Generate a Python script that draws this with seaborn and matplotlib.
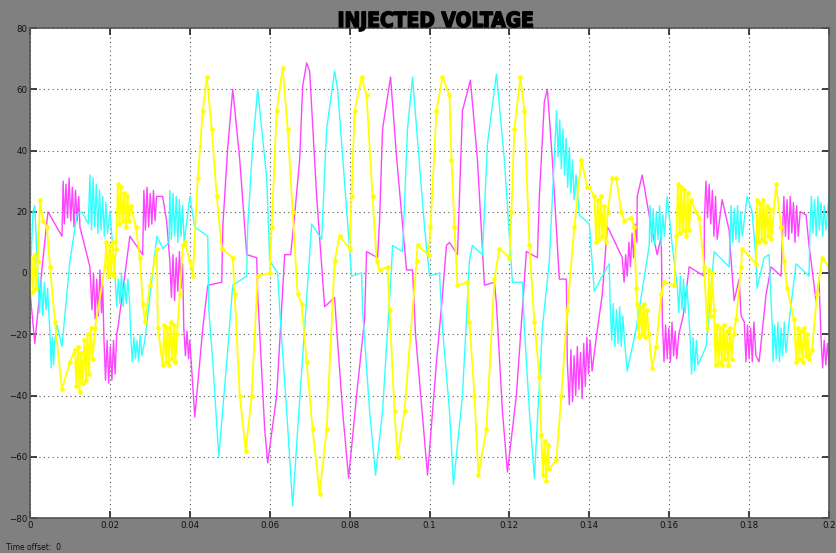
import matplotlib
matplotlib.use("Agg")
import matplotlib.pyplot as plt
import matplotlib.patheffects as pe
import seaborn as sns
import numpy as np

# ---------------- data (time in ms, voltage in V) ----------------
magenta_pts = [
    (0, -6), (1.2, -23), (3.2, 4), (4.5, 20), (8, 12),
    (8.3, 30), (8.6, 16), (9.0, 29), (9.4, 18), (9.8, 31), (10.2, 17), (10.6, 28), (11.0, 15),
    (11.4, 27), (11.8, 17), (12.2, 25), (12.5, 15),
    (15, 2), (15.5, -12), (15.9, 0), (16.3, -15), (16.7, -2), (17.1, -14), (17.5, 1), (17.9, -13), (18.2, -4),
    (18.5, -21), (18.9, -35), (19.3, -22), (19.7, -36), (20.1, -24), (20.5, -35), (20.9, -22), (21.3, -33), (21.7, -20),
    (22, -18), (24.2, 4), (25, 12), (28.2, 6),
    (28.5, 27), (28.9, 14), (29.3, 28), (29.7, 15), (30.1, 26), (30.5, 16), (30.9, 27), (31.3, 17), (31.7, 25),
    (32.5, 25), (33.2, 25), (34.2, 17), (35, 4),
    (35.4, -8), (35.8, 6), (36.2, -9), (36.6, 5), (37, -6), (37.4, 7), (37.8, -5), (38.2, 3),
    (38.5, -18), (38.9, -27), (39.3, -19), (39.7, -28), (40, -22),
    (41.25, -47), (43.25, -18), (44.5, -4), (48, -3), (48.25, 15), (49.5, 41), (50.75, 60), (52.5, 37),
    (54.25, 6), (56.75, 5), (57, -7), (58.75, -51), (59.5, -62), (61.75, -40), (63.75, 6), (65.25, 6),
    (66.25, 19), (67.5, 37), (68.25, 61), (69.25, 68.6),
    (70, 66), (71.75, 25), (73.75, -11), (76.25, -8), (76.75, -18), (78.25, -45), (79.75, -67), (81.75, -40),
    (83.75, -15), (84.25, 7), (87, 5), (87.5, 17), (88.25, 47), (90.25, 64), (91.75, 38), (94.25, 1),
    (95.75, 1), (96.5, -20), (99.5, -66), (101.75, -29), (103, -11), (104.25, 9), (105, 10), (107, 6),
    (108.25, 53), (110.25, 63), (112, 37), (113.75, -4), (116.25, -3), (116.75, -10), (118.25, -45),
    (119.5, -65), (121.75, -40), (124.25, 7), (127, 5), (127.5, 25), (128.75, 56), (129.5, 60),
    (130.75, 37), (132.5, -2), (134.25, -2), (134.5, -29),
    (135, -43), (135.4, -25), (135.8, -42), (136.2, -27), (136.6, -40), (137, -24), (137.4, -38), (137.8, -26),
    (138.2, -41), (138.6, -23), (139, -37), (139.4, -21), (139.8, -33), (140.2, -22), (140.7, -32),
    (141.75, -21), (143.25, -7), (144.5, 15), (145, 14), (148.25, 5),
    (148.7, -3), (149.1, 6), (149.5, -1), (149.9, 10), (150.3, 2), (150.7, 13), (151.1, 5), (151.5, 16), (151.9, 10),
    (152, 25), (153.25, 32), (155.5, 15), (157, 6), (158, 12),
    (158.3, -16), (158.7, -29), (159.1, -17), (159.5, -28), (159.9, -18), (160.3, -29), (160.7, -16),
    (161.1, -27), (161.5, -19), (161.9, -28), (162.4, -20),
    (163.5, -14), (165, 2), (168.75, -1),
    (168.8, 17), (169.2, 30), (169.6, 18), (170, 29), (170.4, 16), (170.8, 27), (171.2, 12), (171.6, 25), (172, 11),
    (173.25, 24), (175, 14), (175.5, 4), (176.25, -9), (177.5, -2), (178, -14),
    (178.8, -16), (179.2, -29), (179.6, -17), (180, -28), (180.4, -18), (180.8, -29), (181.2, -16), (181.7, -27),
    (182.5, -29), (184.25, -7), (185.5, 2), (188, -1),
    (188.3, 10), (188.7, 25), (189.1, 12), (189.5, 24), (189.9, 11), (190.3, 25), (190.7, 13), (191.1, 23),
    (191.5, 10), (191.9, 22), (192.3, 12), (192.8, 20),
    (194.25, 19), (195, 9), (196.75, -9), (197.5, -2),
    (198, -21), (198.4, -31), (198.8, -22), (199.2, -30), (199.6, -23), (200, -29),
]

cyan_pts = [
    (0, -3), (0.75, 20), (1.2, 22), (1.75, 5),
    (2, -1), (2.4, -13), (2.8, -2), (3.2, -14), (3.6, -3), (4, -12), (4.4, -5),
    (5, -20), (5.3, -31), (5.6, -21), (5.9, -30), (6.2, -22),
    (6.75, -17), (8, -24), (10, 4), (11.75, 19), (13, 20), (14.6, 16),
    (15, 32), (15.4, 14), (15.8, 31), (16.2, 15), (16.6, 29), (17, 13), (17.4, 27), (17.8, 14), (18.2, 25),
    (18.6, 12), (19, 23), (19.4, 13),
    (20, 20), (20.75, 8),
    (21.3, -1), (21.7, -11), (22.1, -2), (22.5, -10), (22.9, 0), (23.3, -11), (23.7, -3), (24.1, -10), (24.5, -2), (24.9, -9),
    (25.2, -20), (25.6, -29), (26, -21), (26.4, -28), (26.8, -22), (27.2, -29), (27.6, -20), (28, -27),
    (28.75, -22), (31.75, 12), (33.25, 8), (34.8, 10),
    (35, 27), (35.4, 11), (35.8, 26), (36.2, 12), (36.6, 25), (37, 10), (37.4, 24), (37.8, 12), (38.2, 22), (38.6, 10),
    (40, 25), (41.25, 15), (44.5, 12), (44.75, -12), (45.75, -29), (47.25, -60), (49.25, -29), (50.75, -4),
    (54.25, -1), (54.5, 15), (55.75, 42), (57, 60), (59.25, 31), (60, 4), (62, 0), (62.5, -12), (64.25, -45),
    (65.75, -76), (67, -51), (68.75, -18), (70, 6), (70.5, 16), (73, 11), (74.25, 47), (76.25, 66), (77, 60),
    (80.5, -1), (83, 0), (83.25, -12), (85, -45), (86.5, -66), (88.25, -45), (90.5, 2), (90.75, 9), (93.25, 7),
    (94.5, 47), (95.75, 64), (98.75, 15), (100, -1), (102.5, 0), (103.25, -18), (105, -45), (106, -69),
    (108.25, -40), (110, 4), (110.75, 9), (113.25, 6), (114.5, 42), (116.75, 65), (118.75, 37), (120.75, -3),
    (123.25, -3), (123.75, -18), (125, -45), (126.25, -67), (128.25, -18), (130, 4),
    (131.8, 53), (132.2, 38), (132.6, 50), (133, 34), (133.4, 47), (133.8, 32), (134.2, 44), (134.6, 28),
    (135, 41), (135.4, 26), (135.8, 37), (136.2, 24), (136.7, 32),
    (137.5, 19), (140, 16), (141.25, -6), (143.25, -1), (145, 3),
    (145.2, -9), (145.6, -22), (146, -10), (146.4, -24), (146.8, -12), (147.2, -23), (147.6, -11), (148, -24),
    (148.4, -14), (148.8, -22),
    (149.5, -32), (151.75, -18), (155, 9),
    (155.2, 22), (155.6, 10), (156, 21), (156.4, 9), (156.8, 20), (157.2, 11), (157.6, 22), (158, 9), (158.4, 19), (158.8, 12),
    (159.5, 25), (160.75, 9), (162, -4),
    (162.4, -13), (162.8, -1), (163.2, -12), (163.6, -2), (164, -13), (164.4, -4), (164.8, -11),
    (165.2, -20), (165.6, -33), (166, -21), (166.4, -32), (166.8, -22), (167.2, -30),
    (169.25, -24), (170, -13), (171.25, 7), (175, 2),
    (175.5, 22), (175.9, 10), (176.3, 21), (176.7, 11), (177.1, 22), (177.5, 10), (177.9, 20), (178.3, 12),
    (179.5, 25), (180.75, 20), (181.75, 4), (182, -5), (183.75, 5), (185, 6), (185.75, -16),
    (186, -29), (186.4, -17), (186.8, -28), (187.2, -16), (187.6, -29), (188, -18), (188.4, -27), (188.8, -16), (189.2, -26),
    (190, -16), (191.75, 3), (195, -1),
    (195.2, 12), (195.6, 25), (196, 13), (196.4, 24), (196.8, 12), (197.2, 25), (197.6, 14), (198, 23),
    (198.4, 12), (198.8, 22), (199.2, 14), (200, 25),
]

yellow_pts = [
    (0, -7), (0.4, 5), (0.8, -6), (1.2, 6), (1.6, -5), (2, 4),
    (2.5, 24), (3.25, 17), (4.25, 15), (5, 2), (6.25, -16), (8, -38), (10, -29), (11.25, -25),
    (11.6, -37), (12, -24), (12.4, -39), (12.8, -26), (13.2, -36), (13.6, -22), (14, -35), (14.4, -20),
    (14.8, -33), (15.2, -18), (15.7, -28),
    (16.25, -18), (18.75, 2),
    (19.1, 10), (19.5, -1), (19.9, 9), (20.3, 0), (20.7, 10), (21.1, -1), (21.5, 8),
    (22, 29), (22.4, 16), (22.8, 28), (23.2, 17), (23.6, 26), (24, 15), (24.4, 25), (24.8, 17), (25.2, 22),
    (26.5, 15), (27.5, 5), (28.25, -10), (28.75, -16), (30, -4), (31.75, 8), (32, -18),
    (33.2, -30), (33.6, -17), (34, -29), (34.4, -18), (34.8, -30), (35.2, -16), (35.6, -28), (36, -17),
    (36.4, -29), (36.8, -20),
    (37.5, -7), (38.25, 9), (38.75, 10), (40, 4), (40.75, -1), (42, 31), (43.25, 53), (44.25, 64), (45.5, 47),
    (46.75, 25), (48, 8), (50.75, 5), (51.25, -7), (52.5, -40), (54, -58), (55.5, -40), (57, -1), (60, 0),
    (60.5, 15), (61.75, 53), (63.25, 67), (64.5, 47), (65.75, 20), (67, -7), (68, -10), (69.25, -29),
    (70.75, -51), (72.5, -72), (74.25, -51), (76.25, 4), (77.5, 12), (80, 8), (80.5, 25), (81.25, 53),
    (83, 64), (84.25, 58), (85.75, 25), (86.75, 4), (87.5, 1), (89.5, 2), (90, -12), (91.25, -45), (92, -60),
    (93.75, -45), (96.75, 4), (97, 9), (99.75, 6), (100.25, 15), (101.75, 53), (103.25, 64), (105, 58),
    (105.5, 37), (106.25, 15), (107, -4), (109.5, -3), (110, -16), (111.25, -40), (112.25, -66), (114.25, -51),
    (116.25, -2), (117.5, 8), (120, 5), (120.5, 20), (121.25, 47), (122.75, 64), (123.75, 53), (125, 9),
    (126.25, -16), (127.5, -34),
    (128, -53), (128.4, -66), (128.8, -55), (129.2, -68), (129.6, -56), (130, -64),
    (131.75, -61), (133, -40), (134.5, -12), (136.25, 15), (138, 37), (139.5, 28), (140, 28),
    (141.3, 25), (141.7, 10), (142.1, 24), (142.5, 11), (142.9, 25), (143.3, 12), (143.7, 22), (144.1, 10), (144.6, 20),
    (145.75, 31), (146.75, 31), (148, 20), (148.75, 17), (150.5, 18), (151.25, 15), (151.75, -5),
    (152, -10), (152.4, -21), (152.8, -11), (153.2, -20), (153.6, -10), (154, -21), (154.4, -12), (154.9, -20),
    (155.75, -31), (156.75, -24), (158, -7), (158.75, -3), (161.25, -4),
    (161.8, 12), (162.2, 29), (162.6, 13), (163, 28), (163.4, 14), (163.8, 27), (164.2, 12), (164.6, 26),
    (165, 14), (165.4, 24),
    (166.75, 20), (167.5, 18), (168.75, 2), (169.5, -18),
    (170, 1), (170.4, -14), (170.8, 0), (171.2, -12),
    (171.6, -30), (172, -17), (172.4, -29), (172.8, -18), (173.2, -30), (173.6, -17), (174, -28), (174.4, -19),
    (174.8, -30), (175.2, -18), (175.6, -28), (176.1, -20),
    (176.75, -15), (178, 2), (178.25, 8), (181.75, 3),
    (182, 24), (182.4, 10), (182.8, 23), (183.2, 11), (183.6, 24), (184, 10), (184.4, 22), (184.8, 12),
    (185.2, 21), (185.6, 11),
    (186.75, 29), (188, 15), (188.75, 4), (189.5, -5), (191.25, -15),
    (191.8, -29), (192.2, -18), (192.6, -28), (193, -19), (193.4, -29), (193.8, -18), (194.2, -27), (194.6, -20), (195, -28),
    (195.75, -25), (197, -7), (198.25, 5), (200, 2),
]

x_ticks = [0, 0.02, 0.04, 0.06, 0.08, 0.1, 0.12, 0.14, 0.16, 0.18, 0.2]
x_labels = ["0", "0.02", "0.04", "0.06", "0.08", "0.1", "0.12", "0.14", "0.16", "0.18", "0.2"]
y_ticks = [-80, -60, -40, -20, 0, 20, 40, 60, 80]
title_text = "INJECTED VOLTAGE"
footer_text = "Time offset:  0"

# ---------------- plot ----------------
sns.set_theme(style="white")
plt.rcParams['font.family'] = ['Liberation Sans Narrow', 'DejaVu Sans']

fig = plt.figure(figsize=(8.37, 5.53), dpi=100, facecolor="#808080")
ax = fig.add_axes([30 / 837, 1 - 518 / 553, 799 / 837, 490 / 553])
ax.set_facecolor("white")


def split(pts):
    t = np.array([p[0] for p in pts]) / 1000.0
    v = np.array([p[1] for p in pts], dtype=float)
    return t, v


mt, mv = split(magenta_pts)
ct, cv = split(cyan_pts)
yt, yv = split(yellow_pts)

sns.lineplot(x=mt, y=mv, sort=False, estimator=None, color="#ff44ff", lw=1.0, ax=ax)
sns.lineplot(x=ct, y=cv, sort=False, estimator=None, color="#33ffff", lw=1.0, ax=ax)
sns.lineplot(x=yt, y=yv, sort=False, estimator=None, color="#ffff00", lw=1.3,
             marker="o", markersize=3.4, markeredgewidth=0, ax=ax)

ax.set_xlim(0, 0.2)
ax.set_ylim(-80, 80)
ax.set_xticks(x_ticks)
ax.set_xticklabels(x_labels)
ax.set_yticks(y_ticks)
ax.set_xlabel("")
ax.set_ylabel("")
ax.grid(True, color="#555555", linestyle=(0, (1, 3)), linewidth=0.8)
ax.tick_params(direction="in", length=5, width=1.2, colors="#222222",
               labelsize=6.2, labelcolor="#111111", top=True, right=True,
               bottom=True, left=True, pad=2)
for s in ax.spines.values():
    s.set_color("#555555")
    s.set_linewidth(1.2)

fig.text(436 / 837, 1 - 21 / 553, title_text, ha="center", va="center",
         fontsize=15, fontweight="bold", color="black",
         family=['DejaVu Sans Condensed', 'DejaVu Sans'], fontstretch="condensed",
         path_effects=[pe.withStroke(linewidth=1.0, foreground="black")])
fig.text(6 / 837, 1 - 548 / 553, footer_text, ha="left", va="center",
         fontsize=5.5, color="#111111")

fig.savefig("out.png", dpi=100, facecolor=fig.get_facecolor())
